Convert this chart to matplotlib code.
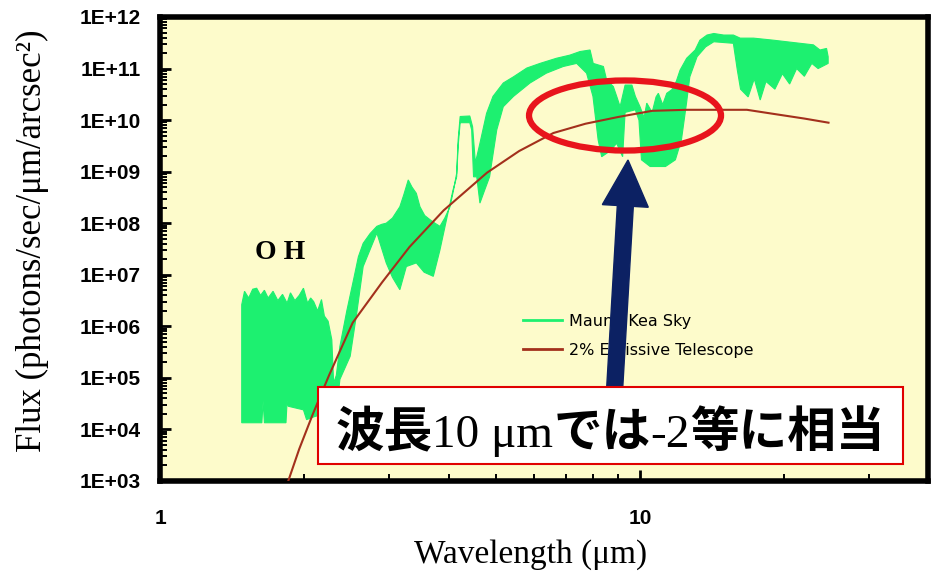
import numpy as np
import matplotlib
matplotlib.use("Agg")
import matplotlib.pyplot as plt
from matplotlib.lines import Line2D
from matplotlib.patches import Ellipse, FancyArrow, Rectangle
from matplotlib.transforms import IdentityTransform
from matplotlib.ticker import LogLocator, NullFormatter, FixedLocator

# --- data (flux values kept as log10) ---
sky_up_wl = [1.48, 1.50, 1.53, 1.56, 1.59, 1.62, 1.65, 1.68, 1.72, 1.76, 1.80, 1.84,
             1.87, 1.91, 1.95, 1.99, 2.03, 2.06, 2.09, 2.13, 2.17, 2.20, 2.24, 2.28,
             2.30, 2.33, 2.37, 2.45, 2.53, 2.59, 2.65, 2.74, 2.83, 2.90, 2.96, 3.05,
             3.16, 3.22, 3.29, 3.35, 3.42, 3.48, 3.56, 3.65, 3.74, 3.83, 3.92, 4.02,
             4.10, 4.15, 4.18, 4.22, 4.42, 4.48, 4.54, 4.64, 4.79, 4.94, 5.19, 5.45,
             5.81, 6.19, 6.70, 7.14, 7.50, 7.87, 7.99, 8.39, 8.52, 8.80, 8.95, 9.09,
             9.31, 9.62, 9.78, 10.0, 10.2, 10.33, 10.6, 10.8, 10.92, 11.15, 11.37,
             11.65, 11.9, 12.12, 12.51, 13.03, 13.33, 13.79, 14.25, 14.94, 15.65,
             16.17, 17.24, 18.97, 20.21, 21.54, 22.97, 23.71, 24.47, 24.66]
sky_up_log = [6.42, 6.68, 6.55, 6.72, 6.74, 6.60, 6.70, 6.55, 6.68, 6.50, 6.62, 6.45,
              6.65, 6.50, 6.60, 6.74, 6.45, 6.55, 6.48, 6.30, 6.52, 6.20, 6.10, 5.74,
              4.90, 5.05, 5.61, 6.30, 6.90, 7.35, 7.61, 7.80, 7.94, 7.98, 8.00, 8.10,
              8.32, 8.55, 8.84, 8.70, 8.58, 8.32, 8.15, 8.07, 8.00, 7.94, 8.10, 8.32,
              8.70, 8.97, 9.62, 10.07, 10.08, 9.87, 9.17, 9.55, 10.13, 10.46, 10.72, 10.84,
              11.01, 11.10, 11.20, 11.26, 11.33, 11.36, 11.10, 11.04, 10.78, 10.65, 10.45, 10.26,
              10.68, 10.68, 10.46, 10.26, 10.05, 10.33, 10.15, 10.45, 10.52, 10.30, 10.52,
              10.59, 10.75, 10.97, 11.20, 11.36, 11.55, 11.65, 11.68, 11.65, 11.65,
              11.59, 11.59, 11.55, 11.52, 11.49, 11.46, 11.36, 11.39, 11.23]

sky_lo_wl = [1.48, 1.63, 1.64, 1.65, 1.83, 1.84, 1.85, 1.99, 2.02, 2.10, 2.20, 2.28,
             2.33, 2.37, 2.49, 2.57, 2.65, 2.83, 2.96, 3.05, 3.16, 3.26, 3.42, 3.55,
             3.71, 3.83, 3.98, 4.08, 4.15, 4.18, 4.22, 4.42, 4.46, 4.50, 4.57, 4.64,
             4.75, 4.86, 5.03, 5.19, 5.45, 5.90, 6.38, 6.92, 7.38, 7.74, 7.98, 8.18,
             8.32, 8.66, 8.94, 9.20, 9.31, 9.78, 9.95, 10.07, 10.5, 11.3, 11.85, 12.2,
             12.5, 12.7, 13.15, 13.7, 14.25, 15.65, 15.95, 16.2, 16.8, 17.3, 17.8, 18.3,
             19.1, 19.8, 20.5, 21.2, 22.0, 22.8, 23.5, 24.66]
sky_lo_log = [4.13, 4.13, 4.55, 4.13, 4.13, 4.55, 4.45, 4.38, 4.19, 4.25, 4.30, 4.30,
              4.30, 4.97, 5.42, 6.26, 7.16, 7.81, 7.23, 6.95, 6.71, 7.16, 7.23, 7.05,
              6.97, 7.48, 8.20, 8.65, 8.90, 9.50, 9.95, 9.95, 9.81, 8.90, 8.90, 8.39,
              8.65, 8.90, 9.81, 10.26, 10.46, 10.72, 10.91, 11.04, 11.10, 10.91, 10.46, 9.62,
              9.29, 9.40, 9.55, 9.29, 10.15, 10.20, 10.00, 9.23, 9.10, 9.10, 9.23, 9.62,
              10.33, 10.84, 11.23, 11.42, 11.52, 11.49, 10.97, 10.60, 10.45, 10.80, 10.39, 10.75,
              10.60, 10.90, 10.70, 11.00, 10.85, 11.10, 11.00, 11.10]

tel_wl = [1.85, 1.95, 2.08, 2.25, 2.52, 2.90, 3.31, 3.90, 4.80, 5.60, 6.60, 7.70,
          9.00, 10.6, 12.5, 16.7, 19.0, 22.0, 24.7]
tel_log = [3.00, 3.62, 4.29, 5.05, 6.07, 6.85, 7.54, 8.25, 8.98, 9.40, 9.75, 9.93,
           10.06, 10.18, 10.20, 10.20, 10.12, 10.03, 9.95]

y_decades = list(range(3, 13))
x_major = [1, 10]
x_labels = ["1", "10"]

sky_color = "#1DF070"
tel_color = "#A3301C"
serif = "Liberation Serif"

fig = plt.figure(figsize=(9.41, 5.84), dpi=100)
ax = fig.add_axes([160 / 941, 103 / 584, 768 / 941, 464 / 584])
ax.set_facecolor("#FDFBCB")

# sky emission drawn as the band between its upper and lower envelope
poly_x = np.concatenate([sky_up_wl, sky_lo_wl[::-1]])
poly_y = 10.0 ** np.concatenate([sky_up_log, sky_lo_log[::-1]])
ax.fill(poly_x, poly_y, color=sky_color, lw=0.8, ec=sky_color, zorder=2)
ax.plot(tel_wl, 10.0 ** np.array(tel_log), color=tel_color, lw=1.5, zorder=3)

ax.set_xscale("log")
ax.set_yscale("log")
ax.set_xlim(1, 10 ** 1.6)
ax.set_ylim(1e3, 1e12)

ax.xaxis.set_major_locator(FixedLocator(x_major))
ax.set_xticklabels(x_labels)
ax.xaxis.set_minor_locator(LogLocator(base=10, subs=np.arange(2, 10)))
ax.xaxis.set_minor_formatter(NullFormatter())
ax.set_yticks([10.0 ** e for e in y_decades])
ax.set_yticklabels([f"1E+{e:02d}" for e in y_decades])
ax.yaxis.set_minor_locator(LogLocator(base=10, subs=np.arange(2, 10), numticks=20))
ax.yaxis.set_minor_formatter(NullFormatter())

ax.tick_params(which="both", direction="in", top=False, right=False)
ax.tick_params(which="major", length=8, width=2)
ax.tick_params(which="minor", length=5, width=1.4)
ax.tick_params(axis="y", pad=14)
ax.tick_params(axis="x", pad=20)
for lab in ax.get_xticklabels() + ax.get_yticklabels():
    lab.set_fontfamily("Liberation Sans")
    lab.set_fontweight("bold")
    lab.set_fontsize(15)
for sp in ax.spines.values():
    sp.set_linewidth(4)

ax.set_xlabel("Wavelength (μm)", family=serif, fontsize=24)
ax.xaxis.set_label_coords(0.482, -0.125)
ax.set_ylabel("Flux (photons/sec/μm/arcsec²)", family=serif, fontsize=25)
ax.yaxis.set_label_coords(-0.145, 0.517)

ax.text(1.78, 2.7e7, "O H", family=serif, fontweight="bold", fontsize=20,
        ha="center", va="center")

handles = [Line2D([], [], color=sky_color, lw=2),
           Line2D([], [], color=tel_color, lw=2)]
ax.legend(handles, ["Mauna Kea Sky", "2% Emissive Telescope"], loc="upper left",
          bbox_to_anchor=(0.473, 0.36), frameon=False, borderpad=0, borderaxespad=0,
          handlelength=2.4, handletextpad=0.45, labelspacing=0.85,
          prop={"family": "DejaVu Sans", "size": 11.5})

ax.add_patch(Ellipse((0.6055, 0.7877), 0.25, 0.151, transform=ax.transAxes,
                     fill=False, ec="#E8141C", lw=4.5, zorder=6, clip_on=False))

# annotation arrow and box (pixel positions)
ident = IdentityTransform()
fig.add_artist(FancyArrow(612, 150, 16, 274, width=16, head_width=46, head_length=46,
                          length_includes_head=True, color="#0C2163",
                          transform=ident, zorder=5))
fig.add_artist(Rectangle((318, 584 - 464), 585, 77, fc="white", ec="#E00000",
                         lw=1.5, transform=ident, zorder=8))

cjk = dict(family=["Noto Sans CJK JP", "DejaVu Sans"], fontweight="bold", fontsize=35)
ser = dict(family=serif, fontsize=34)
pieces = [("波長", cjk), ("10 μm", ser), ("では", cjk), ("-2", ser), ("等に相当", cjk)]
fig.canvas.draw()
rend = fig.canvas.get_renderer()
texts = [fig.text(0, 137, s, transform=ident, va="baseline", zorder=9, **kw)
         for s, kw in pieces]
widths = [t.get_window_extent(rend).width for t in texts]
xpos = 610 - sum(widths) / 2
for t, w in zip(texts, widths):
    t.set_x(xpos)
    xpos += w

fig.savefig("out.png", dpi=100)
